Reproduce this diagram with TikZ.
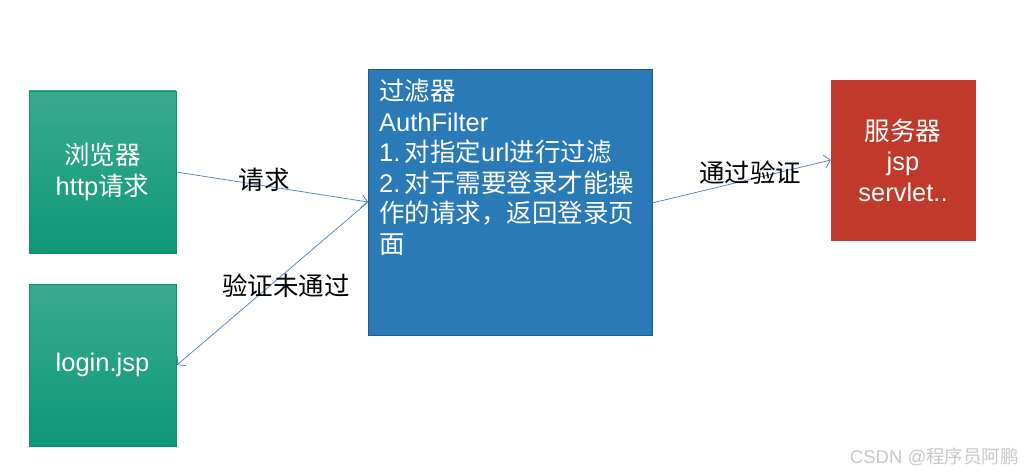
\documentclass[tikz,border=0pt]{standalone}
\usepackage{fontspec}
\setmainfont{Liberation Sans}
\newfontfamily\cjk{Noto Sans CJK SC}
\usetikzlibrary{arrows.meta}
\definecolor{gtop}{RGB}{58,170,142}
\definecolor{gbot}{RGB}{14,152,120}
\definecolor{gedge}{RGB}{20,140,112}
\definecolor{fblue}{RGB}{42,122,184}
\definecolor{fedge}{RGB}{30,90,140}
\definecolor{sred}{RGB}{192,57,43}
\definecolor{aline}{RGB}{74,126,187}
\definecolor{wm}{RGB}{200,200,200}
\tikzset{
  greenbox/.style={draw=gedge, line width=0.6pt, top color=gtop, bottom color=gbot,
    minimum width=147pt, minimum height=162pt, inner sep=0pt, text=white,
    align=center, font=\fontsize{25.5}{30.5}\selectfont},
  filterbox/.style={draw=fedge, line width=0.8pt, fill=fblue, minimum width=284pt,
    minimum height=266pt, inner sep=0pt},
  serverbox/.style={draw=sred, fill=sred, minimum width=144pt, minimum height=160pt,
    inner sep=0pt, text=white, align=center, font=\fontsize{25.5}{30.5}\selectfont},
  barb/.tip={Straight Barb[length=6pt,width=13pt,line width=0.7pt]},
  conn/.style={draw=aline, line width=0.7pt, -barb},
  lbl/.style={font=\fontsize{25.5}{28}\selectfont, text=black, inner sep=1pt}
}
\begin{document}
\begin{tikzpicture}[x=1pt,y=-1pt]
\useasboundingbox (0,0) rectangle (1025,476);
\node[greenbox] (browser) at (102.5,172) {{\cjk 浏览器}\\http{\cjk 请求}};
\node[greenbox] (login) at (102.5,365) {login.jsp};
\node[filterbox] (filter) at (510,202) {};
\node[anchor=north west, text=white, align=left, inner sep=0pt,
  font=\fontsize{25.5}{30.5}\selectfont] (ftext) at (379,79)
  {{\cjk 过滤器}\\AuthFilter\\1.\,{\cjk 对指定}url{\cjk 进行过滤}\\2.\,{\cjk 对于需要登录才能操}\\{\cjk 作的请求，返回登录页}\\{\cjk 面}};
\node[serverbox] (server) at (903,160) {{\cjk 服务器}\\jsp\\servlet..};
\coordinate (fin) at (368,202);
\coordinate (fout) at (652,203);
\coordinate (lin) at (177,365);
\draw[conn] (browser.east) -- (fin);
\draw[draw=aline, line width=0.7pt, barb-] (lin) -- (fin);
\draw[conn] (fout) -- (server.west);
\node[lbl] (l1) at (264,180) {\cjk 请求};
\node[lbl] (l2) at (286,286) {\cjk 验证未通过};
\node[lbl] (l3) at (750,173) {\cjk 通过验证};
\node[text=wm, font=\fontsize{18.5}{21}\selectfont, anchor=east, inner sep=0pt] (wmk) at (1019,457) {CSDN @{\cjk 程序员阿鹏}};
\end{tikzpicture}
\end{document}
